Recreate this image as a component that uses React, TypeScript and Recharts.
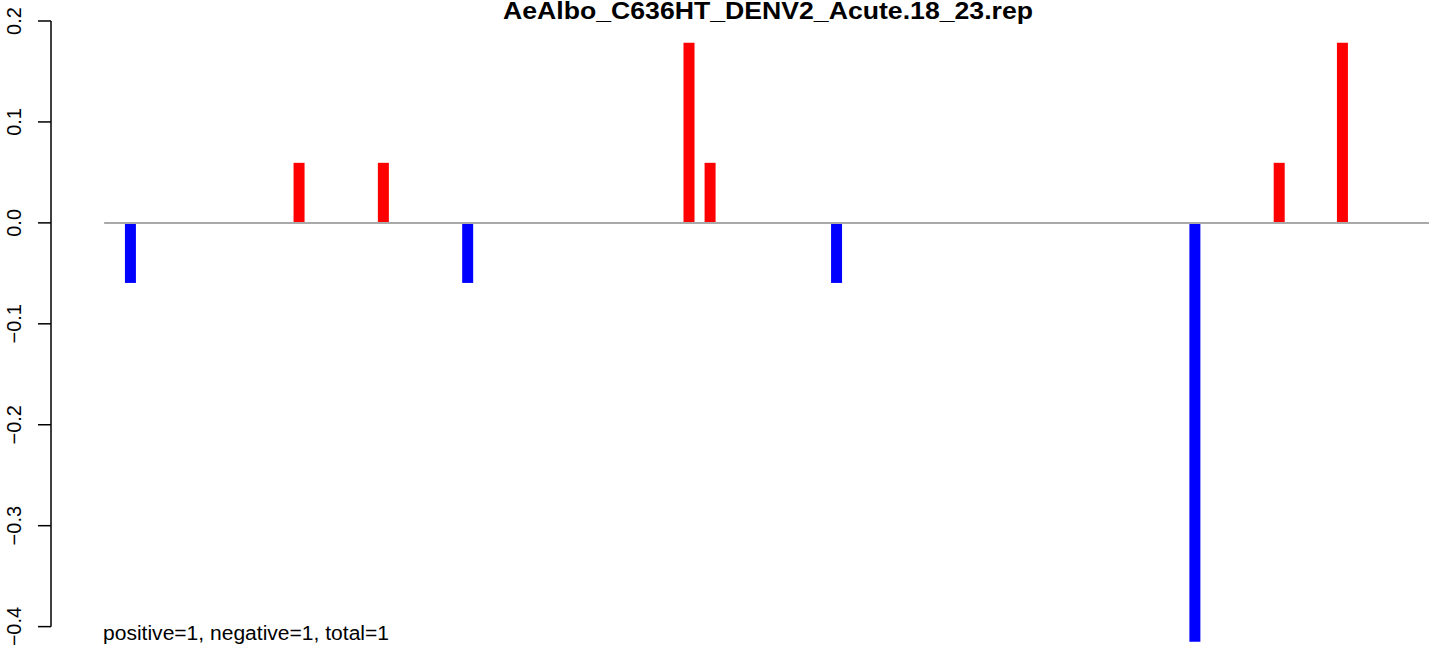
import React from "react";
import { BarChart, Bar, XAxis, YAxis, Cell, ReferenceLine } from "recharts";

// Positions (1-based index along the sequence) and normalised values
const positions = [3, 19, 27, 35, 56, 58, 70, 104, 112, 118];
const values = [-0.0595, 0.0595, 0.0595, -0.0595, 0.1785, 0.0595, -0.0595, -0.415, 0.0595, 0.1785];
const yTicks = [-0.4, -0.3, -0.2, -0.1, 0, 0.1, 0.2];
const title = "AeAlbo_C636HT_DENV2_Acute.18_23.rep";
const note = "positive=1, negative=1, total=1";

const X_MIN = -5.04;
const X_MAX = 125.71;
const Y_MIN = -0.44;
const Y_MAX = 0.2;

const data = positions.map((p, i) => ({ x: p - 0.5, value: values[i] }));

const FONT = "'Liberation Sans', Arial, Helvetica, sans-serif";

const fmt = (v: number) => {
  const s = Math.abs(v).toFixed(1);
  return v < -1e-9 ? "\u2212" + s : s;
};

const YTick = (props: any) => {
  const { y, payload } = props;
  return (
    <text
      transform={`translate(21, ${y}) rotate(-90)`}
      textAnchor="middle"
      fontFamily={FONT}
      fontSize={20}
      fill="#000"
    >
      {fmt(payload.value)}
    </text>
  );
};

export default function App() {
  return (
    <div
      style={{
        position: "fixed",
        left: 0,
        top: 0,
        width: 1429,
        height: 645,
        overflow: "hidden",
        background: "#fff",
      }}
    >
      <BarChart
        width={1429}
        height={667}
        data={data}
        margin={{ top: 21, right: 0, bottom: 0, left: 1 }}
      >
        <XAxis
          type="number"
          dataKey="x"
          domain={[X_MIN, X_MAX]}
          allowDataOverflow
          hide
        />
        <YAxis
          type="number"
          domain={[Y_MIN, Y_MAX]}
          allowDataOverflow
          ticks={yTicks}
          interval={0}
          width={50}
          axisLine={false}
          tickSize={13}
          tickLine={{ stroke: "#000", strokeWidth: 1.5 }}
          tick={<YTick />}
        />
        <Bar dataKey="value" barSize={11} isAnimationActive={false}>
          {data.map((d, i) => (
            <Cell key={i} fill={d.value >= 0 ? "#ff0000" : "#0000ff"} />
          ))}
        </Bar>
        <ReferenceLine
          segment={[
            { x: 0, y: 0 },
            { x: X_MAX, y: 0 },
          ]}
          stroke="#a9a9a9"
          strokeWidth={2}
          ifOverflow="visible"
        />
        <ReferenceLine
          segment={[
            { x: X_MIN, y: -0.4 },
            { x: X_MIN, y: 0.2 },
          ]}
          stroke="#000"
          strokeWidth={1.5}
          ifOverflow="visible"
        />
      </BarChart>
      <svg
        width={1429}
        height={645}
        style={{ position: "absolute", left: 0, top: 0, pointerEvents: "none" }}
      >
        <text
          x={768}
          y={19}
          textAnchor="middle"
          fontFamily={FONT}
          fontWeight="bold"
          fontSize={24}
          textLength={530}
          lengthAdjust="spacingAndGlyphs"
          fill="#000"
        >
          {title}
        </text>
        <text
          x={103}
          y={640}
          fontFamily={FONT}
          fontSize={20}
          textLength={286}
          lengthAdjust="spacingAndGlyphs"
          fill="#000"
        >
          {note}
        </text>
      </svg>
    </div>
  );
}
